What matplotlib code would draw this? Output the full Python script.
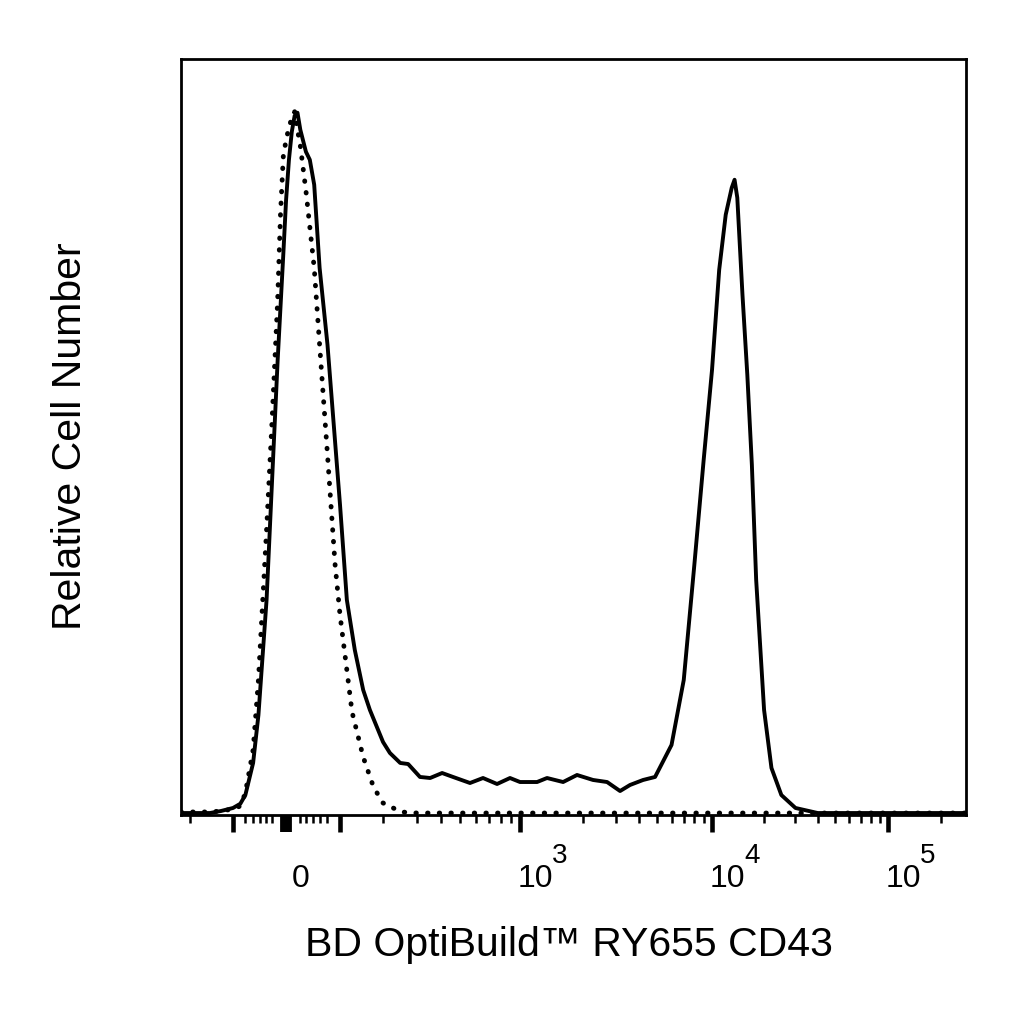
import numpy as np
import matplotlib.pyplot as plt
from matplotlib.ticker import FixedLocator, NullFormatter
from matplotlib.transforms import offset_copy

plt.rcParams['font.family'] = ['Liberation Sans', 'DejaVu Sans']

# CD43 stained cells (solid line): fluorescence value, relative count
stained_x = [-226, -200, -150, -125, -100, -85, -75, -60, -50, -35,
             -25, -15, -5, 0, 5, 10, 15, 20, 25, 35,
             42, 50, 60, 75, 100, 114, 131, 150, 166, 200,
             218, 247, 271, 311, 352, 406, 461, 562, 654, 769,
             892, 1000, 1207, 1347, 1607, 1872, 2264, 2693, 3163, 3579,
             4205, 4877, 6000, 7000, 8000, 9000, 10000, 11000, 12000, 13000,
             13500, 14000, 15000, 16000, 17000, 18000, 20000, 22000, 25000, 30000,
             40000, 100000, 277000]
stained_y = [0.28, 0.28, 0.28, 0.57, 1.0, 1.6, 2.84, 7.4, 14.22, 30.6,
             47.65, 64.72, 79.66, 87.48, 93.17, 97.16, 99.43, 99.86, 97.44, 94.31,
             93.17, 89.62, 77.81, 66.86, 44.10, 30.58, 23.47, 17.78, 14.94, 10.38,
             8.82, 7.40, 7.25, 5.41, 5.26, 5.97, 5.41, 4.55, 5.26, 4.41,
             5.26, 4.69, 4.69, 5.26, 4.69, 5.69, 4.98, 4.69, 3.41, 4.27,
             4.98, 5.41, 9.96, 19.20, 35.56, 50.50, 63.30, 77.52, 85.35, 89.19,
             90.33, 87.77, 73.97, 62.59, 49.79, 33.43, 14.94, 6.69, 2.84, 1.0,
             0.28, 0.28, 0.28]

# isotype control (dotted line)
control_x = [-226, -150, -125, -100, -85, -75, -60, -50, -35, -25,
             -15, -10, -5, 0, 5, 10, 15, 20, 25, 35,
             50, 60, 75, 90, 100, 125, 150, 175, 200, 250,
             300, 277000]
control_y = [0.43, 0.43, 0.57, 0.85, 1.28, 3.13, 9.25, 19.20, 40.54, 56.19,
             73.26, 85.35, 93.60, 96.02, 97.72, 99.15, 100.0, 97.44, 95.16, 88.76,
             77.81, 66.86, 51.21, 35.56, 28.45, 14.65, 8.25, 3.98, 1.71, 0.43,
             0.28, 0.28]

x_label = 'BD OptiBuild™ RY655 CD43'
y_label = 'Relative Cell Number'
decade_labels = [(1e3, '3'), (1e4, '4'), (1e5, '5')]

major_ticks = [-100, 0, 100, 1e3, 1e4, 1e5]
minor_ticks = ([-200, -75, -60, -47, -36, -25, 25, 36, 47, 61, 75]
               + [k * 100 for k in range(2, 10)]
               + [k * 1000 for k in range(2, 10)]
               + [k * 10000 for k in range(2, 10)]
               + [200000])

# biexponential-like axis: interpolate in asinh space between anchors
W = 160.0
anchor_vals = np.array([-1000, -200, -100, 0, 100, 200, 300, 500, 1e3, 2e3,
                        5e3, 1e4, 2e4, 5e4, 1e5, 2e5, 1e6])
anchor_pos = np.array([-0.1645, 0.0115, 0.0662, 0.1338, 0.2025, 0.2573, 0.3006,
                       0.3554, 0.4318, 0.5121, 0.6064, 0.6764, 0.7427, 0.8331,
                       0.9006, 0.9682, 1.125])
anchor_u = np.arcsinh(anchor_vals / W)


def fwd(x):
    return np.interp(np.arcsinh(np.asarray(x, float) / W), anchor_u, anchor_pos)


def inv(p):
    return W * np.sinh(np.interp(np.asarray(p, float), anchor_pos, anchor_u))


fig = plt.figure(figsize=(10.24, 10.24), dpi=100)
ax = fig.add_axes([181 / 1024, 209 / 1024, 785 / 1024, 756 / 1024])
ax.set_xscale('function', functions=(fwd, inv))

ax.plot(control_x, control_y, color='black', lw=3.5,
        linestyle=(0, (0.1, 2.3)), dash_capstyle='round')
ax.plot(stained_x, stained_y, color='black', lw=2.8, solid_joinstyle='round')

ax.set_xlim(-226, 277000)
ax.set_ylim(0, 107.5)

for s in ax.spines.values():
    s.set_linewidth(2.0)
ax.set_yticks([])
ax.xaxis.set_major_locator(FixedLocator(major_ticks))
ax.xaxis.set_minor_locator(FixedLocator(minor_ticks))
ax.xaxis.set_major_formatter(NullFormatter())
ax.xaxis.set_minor_formatter(NullFormatter())
ax.tick_params(axis='x', which='major', length=12, width=3.3, direction='out')
ax.tick_params(axis='x', which='minor', length=5.5, width=1.8, direction='out')
for t, v in zip(ax.xaxis.get_major_ticks(), major_ticks):
    if v == 0:
        t.tick1line.set_markeredgewidth(8.5)

base = ax.get_xaxis_transform()
ax.text(0, 0, '0', transform=offset_copy(base, x=6, y=-72, units='dots'),
        ha='left', va='baseline', fontsize=23)
for v, e in decade_labels:
    ax.text(v, 0, '10', transform=offset_copy(base, x=-2, y=-72, units='dots'),
            ha='left', va='baseline', fontsize=23)
    ax.text(v, 0, e, transform=offset_copy(base, x=32, y=-48, units='dots'),
            ha='left', va='baseline', fontsize=20)

fig.text(569 / 1024, 1 - 945 / 1024, x_label, ha='center', va='center', fontsize=29.5)
fig.text(70 / 1024, 1 - 436 / 1024, y_label, rotation=90, ha='center',
         va='center', fontsize=29.5)

fig.savefig('out.png', dpi=100)
